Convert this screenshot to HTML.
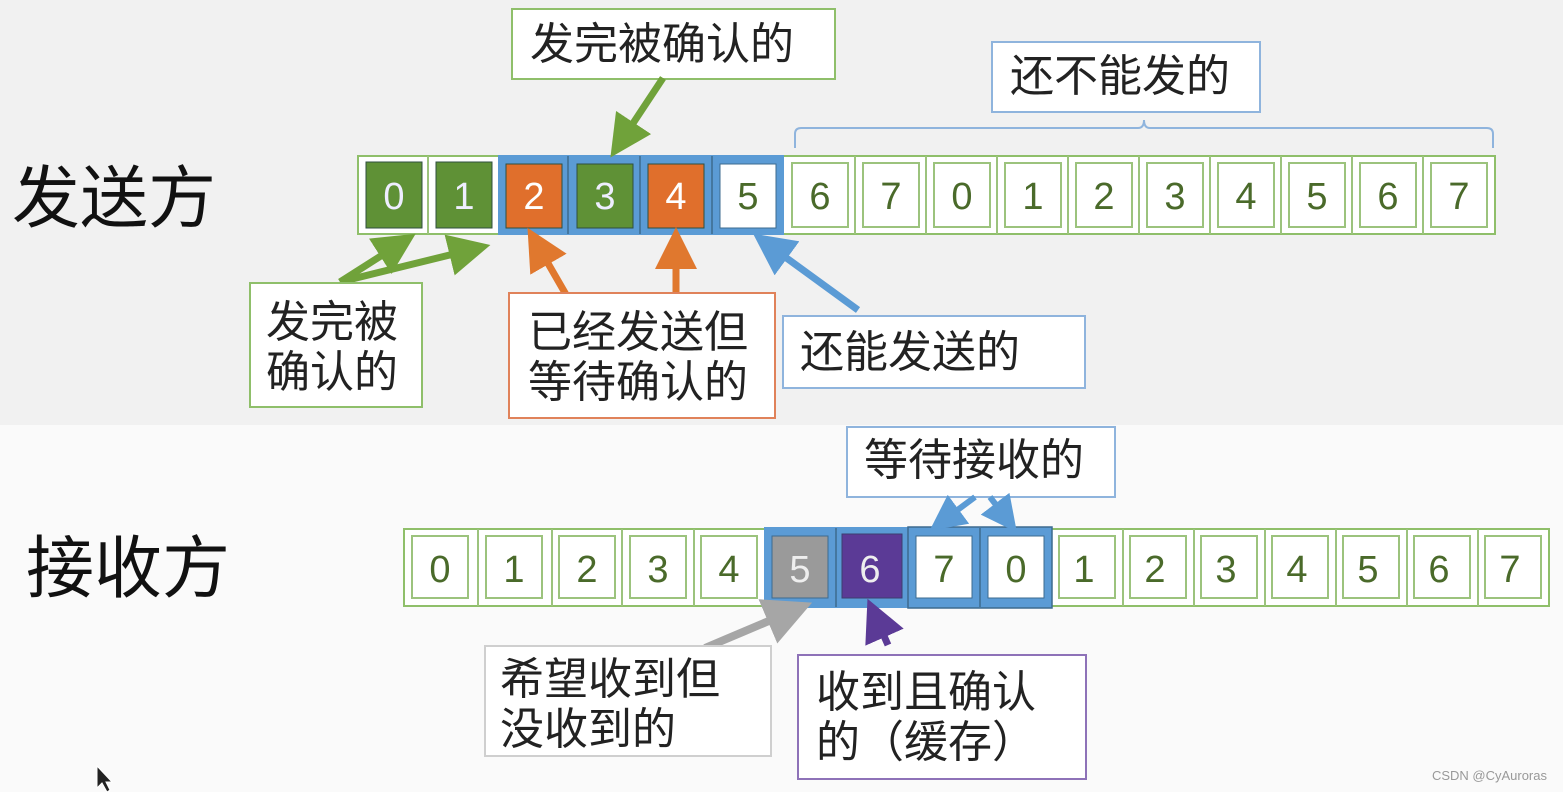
<!DOCTYPE html>
<html><head><meta charset="utf-8"><style>
body{margin:0;width:1563px;height:792px;overflow:hidden;background:#fafafa;}
svg{display:block}
text{font-family:"Liberation Sans","Noto Sans CJK SC",sans-serif;}
</style></head><body>
<svg width="1563" height="792" xmlns="http://www.w3.org/2000/svg">
<defs>
<marker id="ag" markerWidth="6" markerHeight="6" refX="3" refY="3" orient="auto" markerUnits="strokeWidth"><path d="M0,0L6,3L0,6z" fill="#70a23a"/></marker>
<marker id="ao" markerWidth="6" markerHeight="6" refX="3" refY="3" orient="auto" markerUnits="strokeWidth"><path d="M0,0L6,3L0,6z" fill="#e0782e"/></marker>
<marker id="ab" markerWidth="6" markerHeight="6" refX="3" refY="3" orient="auto" markerUnits="strokeWidth"><path d="M0,0L6,3L0,6z" fill="#5b9bd5"/></marker>
<marker id="ay" markerWidth="6" markerHeight="6" refX="3" refY="3" orient="auto" markerUnits="strokeWidth"><path d="M0,0L6,3L0,6z" fill="#a6a6a6"/></marker>
<marker id="ap" markerWidth="6" markerHeight="6" refX="3" refY="3" orient="auto" markerUnits="strokeWidth"><path d="M0,0L6,3L0,6z" fill="#5b3a96"/></marker>
</defs>
<rect x="0" y="0" width="1563" height="425" fill="#f1f1f1"/>
<rect x="0" y="425" width="1563" height="367" fill="#fafafa"/>

<text x="12" y="222" font-size="68" fill="#111">发送方</text>
<text x="26" y="592" font-size="68" fill="#111">接收方</text>

<!-- Sender row -->
<rect x="358" y="156" width="1137" height="78" stroke="#8fbf6a" stroke-width="2" fill="#fff"/>
<rect x="498" y="155" width="286" height="80" fill="#5b9bd5"/>
<line x1="428" y1="156" x2="428" y2="234" stroke="#9cc37d" stroke-width="2"/>
<g stroke="#3d6b8f" stroke-width="1.5" fill="none">
<line x1="568" y1="156" x2="568" y2="234"/><line x1="640" y1="156" x2="640" y2="234"/><line x1="712" y1="156" x2="712" y2="234"/>
</g>
<g stroke="#2f4f3f" stroke-width="1">
<rect x="366" y="162" width="56" height="66" fill="#5f9136"/>
<rect x="436" y="162" width="56" height="66" fill="#5f9136"/>
<rect x="506" y="164" width="56" height="64" fill="#e06f2c"/>
<rect x="577" y="164" width="56" height="64" fill="#5f9136"/>
<rect x="648" y="164" width="56" height="64" fill="#e06f2c"/>
<rect x="720" y="164" width="56" height="64" fill="#fff" stroke="#3d6b8f"/>
</g>
<g fill="#fff" stroke="#9cc37d" stroke-width="2">
<rect x="792" y="163" width="56" height="64"/><rect x="863" y="163" width="56" height="64"/><rect x="934" y="163" width="56" height="64"/><rect x="1005" y="163" width="56" height="64"/><rect x="1076" y="163" width="56" height="64"/><rect x="1147" y="163" width="56" height="64"/><rect x="1218" y="163" width="56" height="64"/><rect x="1289" y="163" width="56" height="64"/><rect x="1360" y="163" width="56" height="64"/><rect x="1431" y="163" width="56" height="64"/>
</g>
<g stroke="#9cc37d" stroke-width="2">
<line x1="855" y1="156" x2="855" y2="234"/><line x1="926" y1="156" x2="926" y2="234"/><line x1="997" y1="156" x2="997" y2="234"/><line x1="1068" y1="156" x2="1068" y2="234"/><line x1="1139" y1="156" x2="1139" y2="234"/><line x1="1210" y1="156" x2="1210" y2="234"/><line x1="1281" y1="156" x2="1281" y2="234"/><line x1="1352" y1="156" x2="1352" y2="234"/><line x1="1423" y1="156" x2="1423" y2="234"/>
</g>
<g font-size="38" text-anchor="middle">
<text x="394" y="209" fill="#eef">0</text><text x="464" y="209" fill="#eef">1</text><text x="534" y="209" fill="#fff">2</text><text x="605" y="209" fill="#eef">3</text><text x="676" y="209" fill="#fff">4</text><text x="748" y="209" fill="#4a6a2a">5</text>
<g fill="#4a6a2a"><text x="820" y="209">6</text><text x="891" y="209">7</text><text x="962" y="209">0</text><text x="1033" y="209">1</text><text x="1104" y="209">2</text><text x="1175" y="209">3</text><text x="1246" y="209">4</text><text x="1317" y="209">5</text><text x="1388" y="209">6</text><text x="1459" y="209">7</text></g>
</g>

<path d="M795,148 V134 Q795,128 801,128 H1138 Q1144,128 1144,120 Q1144,128 1150,128 H1487 Q1493,128 1493,134 V148" fill="none" stroke="#8fb4dd" stroke-width="2"/>

<rect x="512" y="9" width="323" height="70" fill="#fff" stroke="#8fbf6a" stroke-width="2"/>
<text x="530" y="59" font-size="44" fill="#222">发完被确认的</text>
<rect x="992" y="42" width="268" height="70" fill="#fff" stroke="#8fb4dd" stroke-width="2"/>
<text x="1010" y="91" font-size="44" fill="#222">还不能发的</text>

<line x1="663" y1="78" x2="622" y2="140" stroke="#70a23a" stroke-width="7" marker-end="url(#ag)"/>
<line x1="340" y1="282" x2="398" y2="245" stroke="#70a23a" stroke-width="7" marker-end="url(#ag)"/>
<line x1="340" y1="282" x2="470" y2="250" stroke="#70a23a" stroke-width="7" marker-end="url(#ag)"/>
<line x1="568" y1="298" x2="538" y2="246" stroke="#e0782e" stroke-width="7" marker-end="url(#ao)"/>
<line x1="676" y1="295" x2="676" y2="248" stroke="#e0782e" stroke-width="7" marker-end="url(#ao)"/>
<line x1="858" y1="310" x2="770" y2="246" stroke="#5b9bd5" stroke-width="7" marker-end="url(#ab)"/>

<rect x="250" y="283" width="172" height="124" fill="#fff" stroke="#8fbf6a" stroke-width="2"/>
<text x="266" y="337" font-size="44" fill="#222">发完被</text>
<text x="266" y="387" font-size="44" fill="#222">确认的</text>
<rect x="509" y="293" width="266" height="125" fill="#fff" stroke="#e0825a" stroke-width="2"/>
<text x="528" y="347" font-size="44" fill="#222">已经发送但</text>
<text x="528" y="397" font-size="44" fill="#222">等待确认的</text>
<rect x="783" y="316" width="302" height="72" fill="#fff" stroke="#8fb4dd" stroke-width="2"/>
<text x="800" y="367" font-size="44" fill="#222">还能发送的</text>

<!-- Receiver row -->
<rect x="404" y="529" width="1145" height="77" fill="#fff" stroke="#8fbf6a" stroke-width="2"/>
<rect x="764" y="527" width="288" height="81" fill="#5b9bd5"/>
<rect x="908" y="527" width="144" height="81" fill="none" stroke="#3d6b8f" stroke-width="1.5"/>
<line x1="980" y1="528" x2="980" y2="607" stroke="#3d6b8f" stroke-width="1.5"/>
<line x1="836" y1="528" x2="836" y2="607" stroke="#3d6b8f" stroke-width="1.5"/>
<g stroke="#9cc37d" stroke-width="2">
<line x1="478" y1="529" x2="478" y2="606"/><line x1="552" y1="529" x2="552" y2="606"/><line x1="622" y1="529" x2="622" y2="606"/><line x1="694" y1="529" x2="694" y2="606"/>
<line x1="1123" y1="529" x2="1123" y2="606"/><line x1="1194" y1="529" x2="1194" y2="606"/><line x1="1265" y1="529" x2="1265" y2="606"/><line x1="1336" y1="529" x2="1336" y2="606"/><line x1="1407" y1="529" x2="1407" y2="606"/><line x1="1478" y1="529" x2="1478" y2="606"/>
</g>
<g fill="#fff" stroke="#9cc37d" stroke-width="2">
<rect x="412" y="536" width="56" height="62"/><rect x="486" y="536" width="56" height="62"/><rect x="559" y="536" width="56" height="62"/><rect x="630" y="536" width="56" height="62"/><rect x="701" y="536" width="56" height="62"/>
<rect x="1059" y="536" width="56" height="62"/><rect x="1130" y="536" width="56" height="62"/><rect x="1201" y="536" width="56" height="62"/><rect x="1272" y="536" width="56" height="62"/><rect x="1343" y="536" width="56" height="62"/><rect x="1414" y="536" width="56" height="62"/><rect x="1485" y="536" width="56" height="62"/>
</g>
<rect x="772" y="536" width="56" height="62" fill="#9a9a9a" stroke="#3d6b8f"/>
<rect x="842" y="534" width="60" height="64" fill="#5b3a96" stroke="#3d3d6f"/>
<rect x="916" y="536" width="56" height="62" fill="#fff" stroke="#3d6b8f"/>
<rect x="988" y="536" width="56" height="62" fill="#fff" stroke="#3d6b8f"/>
<g font-size="38" text-anchor="middle" fill="#4a6a2a">
<text x="440" y="582">0</text><text x="514" y="582">1</text><text x="587" y="582">2</text><text x="658" y="582">3</text><text x="729" y="582">4</text>
<text x="800" y="582" fill="#eee">5</text><text x="870" y="582" fill="#eee">6</text>
<text x="944" y="582">7</text><text x="1016" y="582">0</text>
<text x="1084" y="582">1</text><text x="1155" y="582">2</text><text x="1226" y="582">3</text><text x="1297" y="582">4</text><text x="1368" y="582">5</text><text x="1439" y="582">6</text><text x="1510" y="582">7</text>
</g>

<rect x="847" y="427" width="268" height="70" fill="#fff" stroke="#8fb4dd" stroke-width="2"/>
<text x="864" y="475" font-size="44" fill="#222">等待接收的</text>
<line x1="975" y1="497" x2="944" y2="520" stroke="#5b9bd5" stroke-width="6" marker-end="url(#ab)"/>
<line x1="990" y1="497" x2="1006" y2="518" stroke="#5b9bd5" stroke-width="6" marker-end="url(#ab)"/>

<line x1="705" y1="648" x2="790" y2="612" stroke="#a6a6a6" stroke-width="8" marker-end="url(#ay)"/>
<line x1="888" y1="645" x2="876" y2="618" stroke="#5b3a96" stroke-width="7" marker-end="url(#ap)"/>

<rect x="485" y="646" width="286" height="110" fill="#fff" stroke="#cfcfcf" stroke-width="2"/>
<text x="500" y="694" font-size="44" fill="#222">希望收到但</text>
<text x="500" y="744" font-size="44" fill="#222">没收到的</text>
<rect x="798" y="655" width="288" height="124" fill="#fff" stroke="#8e72b8" stroke-width="2"/>
<text x="816" y="707" font-size="44" fill="#222">收到且确认</text>
<text x="816" y="757" font-size="44" fill="#222">的（缓存）</text>

<path d="M97,766 L97,788 L102,783 L107,792 L110,790 L106,782 L112,782 Z" fill="#222" stroke="#fff" stroke-width="1"/>
<text x="1547" y="780" font-size="13" fill="#999" text-anchor="end">CSDN @CyAuroras</text>
</svg>
</body></html>
